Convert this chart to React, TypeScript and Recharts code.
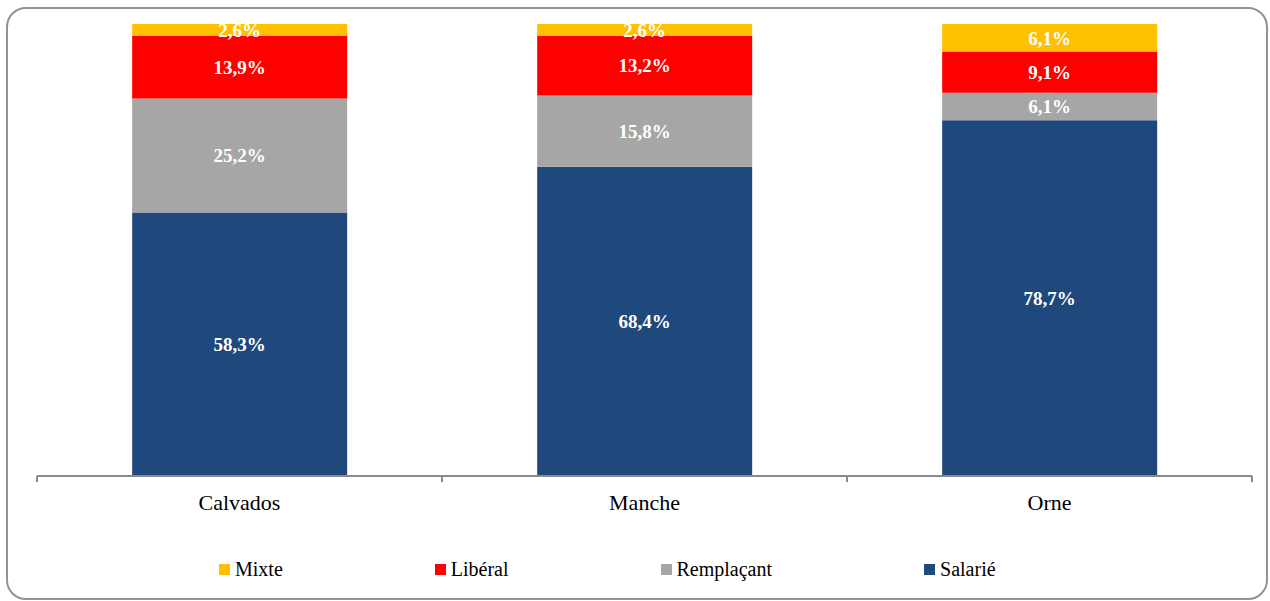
import { Bar, BarChart, LabelList, XAxis, YAxis } from 'recharts';

const departments = ['Calvados', 'Manche', 'Orne'];
const salarie = [58.3, 68.4, 78.7];
const remplacant = [25.2, 15.8, 6.1];
const liberal = [13.9, 13.2, 9.1];
const mixte = [2.6, 2.6, 6.1];

// ordre d'empilement : du bas vers le haut
const series = [
    { key: 'salarie', name: 'Salarié', color: '#1f497d', values: salarie },
    { key: 'remplacant', name: 'Remplaçant', color: '#a6a6a6', values: remplacant },
    { key: 'liberal', name: 'Libéral', color: '#ff0000', values: liberal },
    { key: 'mixte', name: 'Mixte', color: '#ffc000', values: mixte },
];

const data = departments.map((dep, i) => {
    const row: any = { dep };
    series.forEach((s) => (row[s.key] = s.values[i]));
    return row;
});

const FONT = '"Liberation Serif", "Times New Roman", serif';
const AXIS_GREY = '#8a8a8a';

const pct = (v: any) => `${Number(v).toFixed(1).replace('.', ',')}%`;

function CategoryTick(props: any) {
    const { x, y, payload, index, width, visibleTicksCount } = props;
    const band = (width || 1215) / (visibleTicksCount || departments.length);
    const half = band / 2;
    return (
        <g>
            {index === 0 && <line x1={x - half} x2={x - half} y1={y} y2={y + 6} stroke={AXIS_GREY} strokeWidth={2} />}
            <line x1={x + half} x2={x + half} y1={y} y2={y + 6} stroke={AXIS_GREY} strokeWidth={2} />
            <text x={x} y={y + 26} textAnchor="middle" dominantBaseline="central" fontFamily={FONT} fontSize={22} fill="#000">
                {payload.value}
            </text>
        </g>
    );
}

function LegendBox() {
    // légende dans l'ordre inverse de l'empilement
    const items = [...series].reverse();
    return (
        <div
            style={{
                position: 'absolute',
                left: 219,
                top: 558,
                display: 'flex',
                alignItems: 'center',
                gap: 152,
                fontFamily: FONT,
                fontSize: 20,
                color: '#000',
                lineHeight: '22px',
            }}
        >
            {items.map((s) => (
                <div key={s.key} style={{ display: 'flex', alignItems: 'center', whiteSpace: 'nowrap' }}>
                    <span style={{ display: 'inline-block', width: 11, height: 11, background: s.color, marginRight: 5 }} />
                    <span>{s.name}</span>
                </div>
            ))}
        </div>
    );
}

export default function App() {
    return (
        <div style={{ position: 'absolute', left: 0, top: 0, width: 1270, height: 601, background: '#fff', overflow: 'hidden' }}>
            <div
                style={{
                    position: 'absolute',
                    left: 6,
                    top: 7,
                    width: 1262,
                    height: 593,
                    boxSizing: 'border-box',
                    border: '2px solid #939393',
                    borderRadius: 20,
                }}
            />
            <div style={{ position: 'absolute', left: 0, top: 0 }}>
                <BarChart
                    width={1270}
                    height={601}
                    data={data}
                    margin={{ top: 24, right: 18, left: 37, bottom: 0 }}
                    barCategoryGap="23.5%"
                >
                    <XAxis
                        dataKey="dep"
                        height={125}
                        tickLine={false}
                        tickSize={0}
                        tickMargin={0}
                        axisLine={{ stroke: AXIS_GREY, strokeWidth: 2 }}
                        tick={<CategoryTick />}
                        interval={0}
                    />
                    <YAxis hide domain={[0, 100]} />
                    {series.map((s) => (
                        <Bar key={s.key} dataKey={s.key} name={s.name} stackId="a" fill={s.color} isAnimationActive={false}>
                            <LabelList
                                dataKey={s.key}
                                position="center"
                                formatter={pct}
                                fill="#fff"
                                fontFamily={FONT}
                                fontWeight="bold"
                                fontSize={19}
                            />
                        </Bar>
                    ))}
                </BarChart>
            </div>
            <LegendBox />
        </div>
    );
}
